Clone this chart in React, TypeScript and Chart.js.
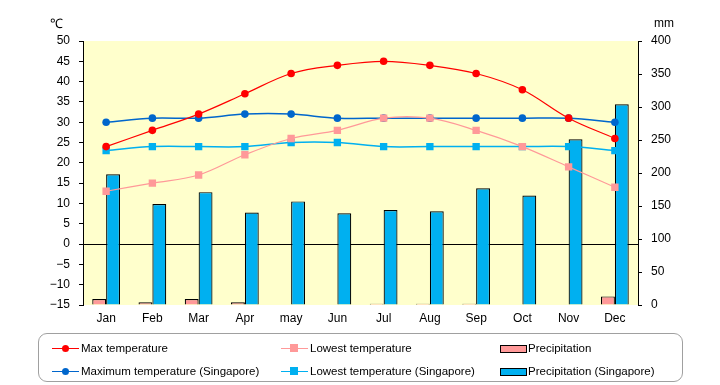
import React, { useEffect, useRef } from "react";
import { Chart, registerables } from "chart.js";
Chart.register(...registerables);

const months = ["Jan", "Feb", "Mar", "Apr", "may", "Jun", "Jul", "Aug", "Sep", "Oct", "Nov", "Dec"];
const maxTemp = [24, 28, 32, 37, 42, 44, 45, 44, 42, 38, 31, 26];
const lowTemp = [13, 15, 17, 22, 26, 28, 31, 31, 28, 24, 19, 14];
const precip = [9, 4, 9, 4, 0, 0, 2, 2, 2, 0, 0, 13];
const sgMaxTemp = [30, 31, 31, 32, 32, 31, 31, 31, 31, 31, 31, 30];
const sgLowTemp = [23, 24, 24, 24, 25, 25, 24, 24, 24, 24, 24, 23];
const sgPrecip = [198, 153, 171, 140, 157, 139, 144, 142, 177, 166, 251, 304];

const FONT = "'Liberation Sans', Arial, sans-serif";
const RED = "#FF0000";
const PINK = "#FF9999";
const BLUE = "#0066CC";
const CYAN = "#00B0F0";
const BG = "#FFFFCC";

const bgPlugin = {
  id: "plotBg",
  beforeDraw(chart: any) {
    const { ctx, chartArea } = chart;
    ctx.save();
    ctx.fillStyle = BG;
    ctx.fillRect(chartArea.left, chartArea.top, chartArea.right - chartArea.left, chartArea.bottom - chartArea.top);
    ctx.restore();
  },
};

function LineMarker({ color, shape }: { color: string; shape: "circle" | "rect" }) {
  return (
    <div style={{ position: "relative", width: 27, height: 10 }}>
      <div style={{ position: "absolute", left: 0, right: 0, top: 4.5, height: 1, background: color }} />
      <div
        style={{
          position: "absolute",
          left: shape === "circle" ? 10 : 9,
          top: shape === "circle" ? 1.5 : 1,
          width: shape === "circle" ? 7 : 8,
          height: shape === "circle" ? 7 : 8,
          borderRadius: shape === "circle" ? "50%" : 0,
          background: color,
        }}
      />
    </div>
  );
}

function BoxMarker({ color }: { color: string }) {
  return <div style={{ width: 25, height: 6, border: "1px solid #000", background: color, marginTop: 1 }} />;
}

const legendItems = [
  { label: "Max temperature", x: 52, y: 348, kind: "line", color: RED, shape: "circle" },
  { label: "Lowest temperature", x: 281, y: 348, kind: "line", color: PINK, shape: "rect" },
  { label: "Precipitation", x: 500, y: 348, kind: "box", color: PINK },
  { label: "Maximum temperature (Singapore)", x: 52, y: 371, kind: "line", color: BLUE, shape: "circle" },
  { label: "Lowest temperature (Singapore)", x: 281, y: 371, kind: "line", color: CYAN, shape: "rect" },
  { label: "Precipitation (Singapore)", x: 500, y: 371, kind: "box", color: CYAN },
];

export default function App() {
  const canvasRef = useRef<HTMLCanvasElement | null>(null);

  useEffect(() => {
    const canvas = canvasRef.current;
    if (!canvas) return;
    const tickFont = { family: FONT, size: 12 };
    const chart = new Chart(canvas, {
      type: "bar",
      data: {
        labels: months,
        datasets: [
          {
            type: "line",
            label: "Max temperature",
            data: maxTemp,
            yAxisID: "y",
            borderColor: RED,
            backgroundColor: RED,
            borderWidth: 1.2,
            pointStyle: "circle",
            pointRadius: 3.8,
            pointBorderWidth: 0,
            pointBackgroundColor: RED,
            tension: 0.35,
            order: 1,
          },
          {
            type: "line",
            label: "Lowest temperature",
            data: lowTemp,
            yAxisID: "y",
            borderColor: PINK,
            backgroundColor: PINK,
            borderWidth: 1.2,
            pointStyle: "rect",
            pointRadius: 5.2,
            pointBorderWidth: 0,
            pointBackgroundColor: PINK,
            tension: 0.35,
            order: 2,
          },
          {
            type: "line",
            label: "Maximum temperature (Singapore)",
            data: sgMaxTemp,
            yAxisID: "y",
            borderColor: BLUE,
            backgroundColor: BLUE,
            borderWidth: 1.5,
            pointStyle: "circle",
            pointRadius: 3.8,
            pointBorderWidth: 0,
            pointBackgroundColor: BLUE,
            tension: 0.35,
            order: 3,
          },
          {
            type: "line",
            label: "Lowest temperature (Singapore)",
            data: sgLowTemp,
            yAxisID: "y",
            borderColor: CYAN,
            backgroundColor: CYAN,
            borderWidth: 1.5,
            pointStyle: "rect",
            pointRadius: 5.2,
            pointBorderWidth: 0,
            pointBackgroundColor: CYAN,
            tension: 0.35,
            order: 4,
          },
          {
            type: "bar",
            label: "Precipitation",
            data: precip,
            yAxisID: "y1",
            backgroundColor: PINK,
            borderColor: "#000",
            borderWidth: 1.2,
            categoryPercentage: 0.6,
            barPercentage: 1.0,
            order: 10,
          },
          {
            type: "bar",
            label: "Precipitation (Singapore)",
            data: sgPrecip,
            yAxisID: "y1",
            backgroundColor: CYAN,
            borderColor: "#000",
            borderWidth: 1.2,
            categoryPercentage: 0.6,
            barPercentage: 1.0,
            order: 11,
          },
        ] as any,
      },
      options: {
        animation: false,
        responsive: false,
        devicePixelRatio: 1,
        layout: { padding: { top: 41, left: 0, right: 0, bottom: 0 } },
        plugins: { legend: { display: false }, tooltip: { enabled: false }, title: { display: false } },
        scales: {
          x: {
            grid: { display: false, drawTicks: false },
            border: { display: false },
            ticks: { color: "#000", font: tickFont, padding: 6, maxRotation: 0, autoSkip: false },
            afterFit: (s: any) => {
              s.height = 80;
            },
          },
          y: {
            position: "left",
            min: -15,
            max: 50,
            ticks: {
              stepSize: 5,
              color: "#000",
              font: tickFont,
              padding: 9,
              callback: (v: any) => String(v).replace("-", "−"),
            },
            grid: {
              color: (c: any) => (c.tick && c.tick.value === 0 ? "#000" : "rgba(0,0,0,0)"),
              tickColor: "#000",
              tickLength: 4,
              lineWidth: 1,
            },
            border: { color: "#000", width: 1 },
            afterFit: (s: any) => {
              s.width = 83;
            },
          },
          y1: {
            position: "right",
            min: 0,
            max: 400,
            ticks: { stepSize: 50, color: "#000", font: tickFont, padding: 9 },
            grid: { drawOnChartArea: false, tickColor: "#000", tickLength: 4 },
            border: { color: "#000", width: 1 },
            afterFit: (s: any) => {
              s.width = 82;
            },
          },
        },
      } as any,
      plugins: [bgPlugin],
    });
    return () => chart.destroy();
  }, []);

  return (
    <div style={{ position: "absolute", left: 0, top: 0, width: 720, height: 385, background: "#fff", fontFamily: FONT, overflow: "hidden" }}>
      <canvas ref={canvasRef} width={720} height={385} style={{ position: "absolute", left: 0, top: 0, width: 720, height: 385 }} />
      <div style={{ position: "absolute", left: 50, top: 16, fontSize: 13, lineHeight: "16px", color: "#000" }}>℃</div>
      <div style={{ position: "absolute", left: 654, top: 15, fontSize: 12, lineHeight: "16px", color: "#000" }}>mm</div>
      <div
        style={{
          position: "absolute",
          left: 38,
          top: 333,
          width: 645,
          height: 49,
          border: "1px solid #A0A0A0",
          borderRadius: 9,
          boxSizing: "border-box",
        }}
      />
      {legendItems.map((it) => (
        <div
          key={it.label}
          style={{ position: "absolute", left: it.x, top: it.y - 8, height: 16, display: "flex", alignItems: "center", whiteSpace: "nowrap" }}
        >
          {it.kind === "line" ? <LineMarker color={it.color} shape={it.shape as any} /> : <BoxMarker color={it.color} />}
          <span style={{ fontSize: 11.5, color: "#000", marginLeft: it.kind === "line" ? 2 : 1, lineHeight: "16px" }}>{it.label}</span>
        </div>
      ))}
    </div>
  );
}
